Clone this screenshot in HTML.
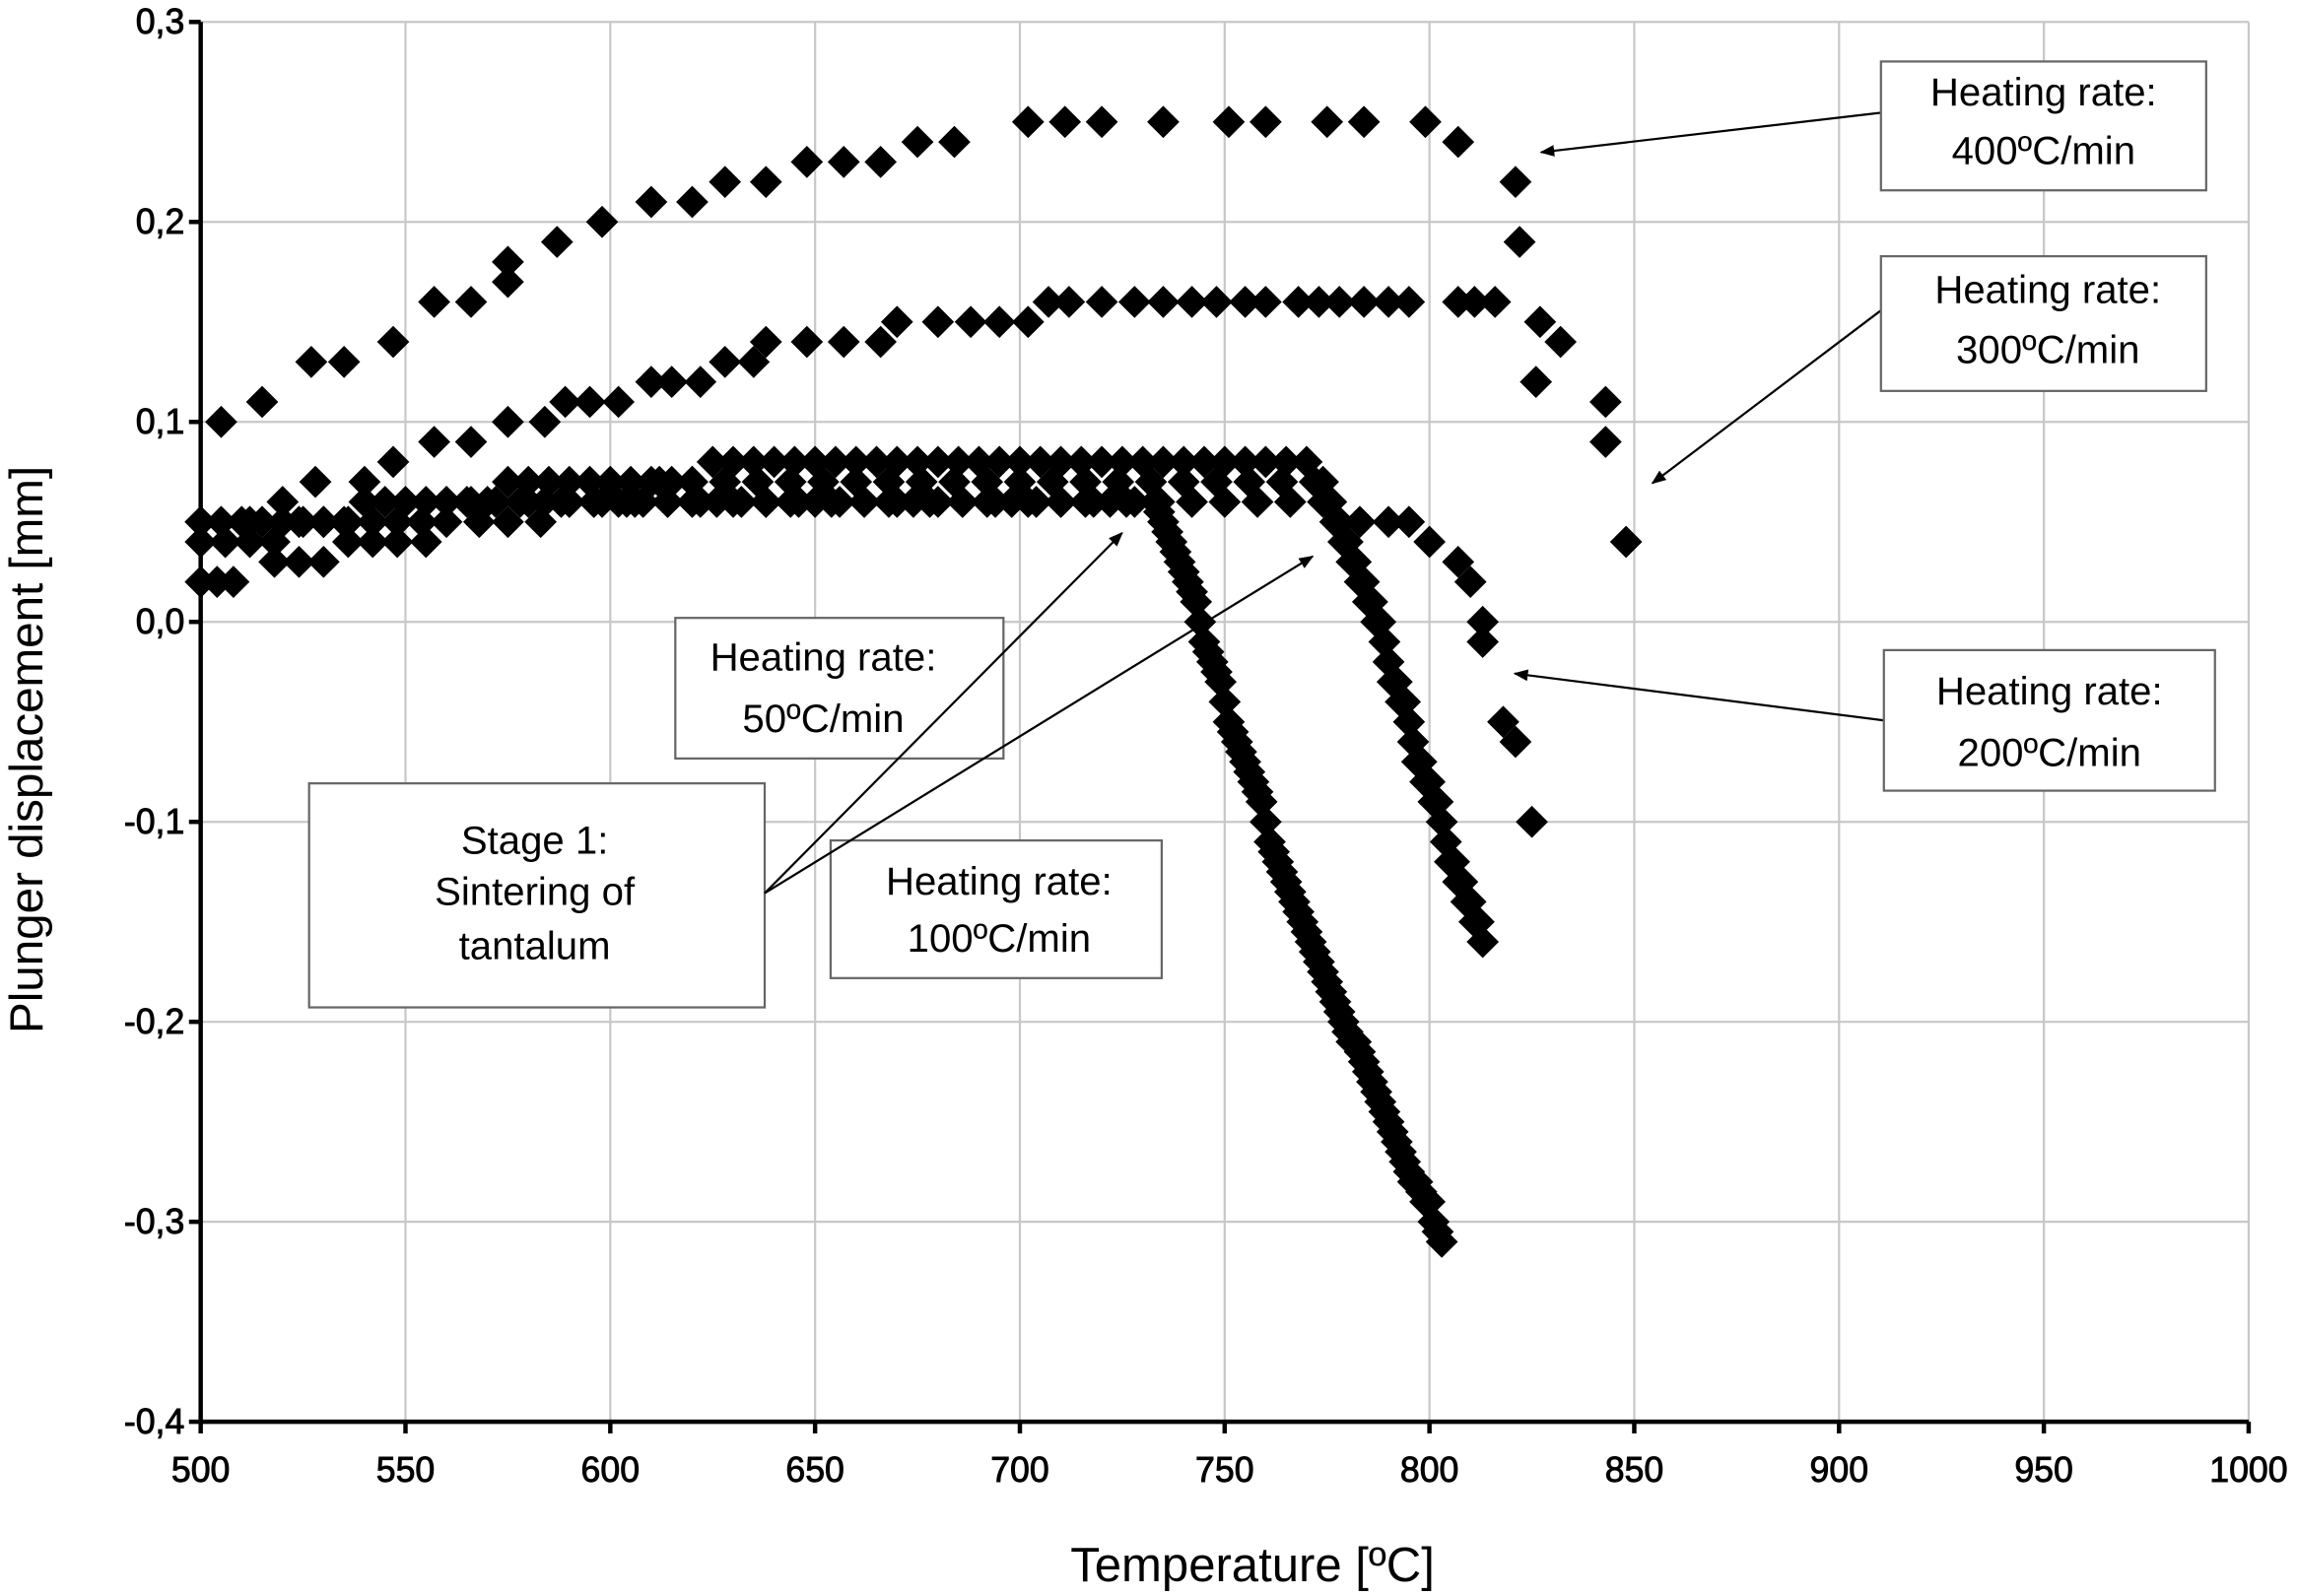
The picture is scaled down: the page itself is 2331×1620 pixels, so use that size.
<!DOCTYPE html>
<html><head><meta charset="utf-8"><style>
html,body{margin:0;padding:0;background:#fff;}
svg{display:block;font-family:"Liberation Sans",Arial,sans-serif;}
</style></head><body>
<svg id="chart" width="2331" height="1620" viewBox="0 0 1568 1090" preserveAspectRatio="none">
<defs><marker id="ah" markerWidth="10" markerHeight="8" refX="9" refY="4" orient="auto" markerUnits="userSpaceOnUse"><path d="M0,0 L10,4 L0,8 Z" fill="#000"/></marker></defs>
<g id="grid"></g>
<g id="marks"></g>
<g id="axes"></g>
<text transform="translate(29,512) rotate(-90)" text-anchor="middle" font-size="32">Plunger displacement [mm]</text>
<text x="855" y="1080" text-anchor="middle" font-size="33">Temperature [ºC]</text>
<g font-size="27" text-anchor="middle" stroke-width="1.5">
<g>
<line x1="1284" y1="77" x2="1052" y2="104" stroke="#000" marker-end="url(#ah)"/>
<rect x="1284" y="42" width="222" height="88" fill="#fff" stroke="#666"/>
<text x="1395" y="72">Heating rate:</text><text x="1395" y="112">400ºC/min</text></g>
<g>
<line x1="1284" y1="212" x2="1128" y2="330" stroke="#000" marker-end="url(#ah)"/>
<rect x="1284" y="175" width="222" height="92" fill="#fff" stroke="#666"/>
<text x="1398" y="207">Heating rate:</text><text x="1398" y="248">300ºC/min</text></g>
<g>
<line x1="1286" y1="492" x2="1034" y2="460" stroke="#000" marker-end="url(#ah)"/>
<rect x="1286" y="444" width="226" height="96" fill="#fff" stroke="#666"/>
<text x="1399" y="481">Heating rate:</text><text x="1399" y="523">200ºC/min</text></g>
<g>
<rect x="461" y="422" width="224" height="96" fill="#fff" stroke="#666"/>
<text x="562" y="458">Heating rate:</text><text x="562" y="500">50ºC/min</text></g>
<g>
<rect x="211" y="535" width="311" height="153" fill="#fff" stroke="#666"/>
<text x="365" y="583">Stage 1:</text><text x="365" y="618">Sintering of</text><text x="365" y="655">tantalum</text></g>
<g>
<rect x="567" y="574" width="226" height="94" fill="#fff" stroke="#666"/>
<text x="682" y="611">Heating rate:</text><text x="682" y="650">100ºC/min</text></g>
<line x1="522" y1="610" x2="766" y2="364" stroke="#000" marker-end="url(#ah)"/>
<line x1="522" y1="610" x2="896" y2="380" stroke="#000" marker-end="url(#ah)"/>
</g>
</svg>
<script>
const xTicks=[500,550,600,650,700,750,800,850,900,950,1000];
const yTicks=[0.3,0.2,0.1,0.0,-0.1,-0.2,-0.3,-0.4];
const yLabels=["0,3","0,2","0,1","0,0","-0,1","-0,2","-0,3","-0,4"];
const t400=[505,515,527,535,547,557,566,575,575,587,598,610,620,628,638,648,657,666,675,684,702,711,720,735,751,760,775,784,799,807,821,822,827,832,843];
const v400=[0.10,0.11,0.13,0.13,0.14,0.16,0.16,0.17,0.18,0.19,0.20,0.21,0.21,0.22,0.22,0.23,0.23,0.23,0.24,0.24,0.25,0.25,0.25,0.25,0.25,0.25,0.25,0.25,0.25,0.24,0.22,0.19,0.15,0.14,0.11];
const t300=[500,506,512,520,528,540,547,557,566,575,584,589,595,602,610,615,622,628,635,638,648,657,666,670,680,688,695,702,707,712,720,728,735,742,748,755,760,768,773,778,784,790,795,807,811,816,826,843,848];
const v300=[0.04,0.04,0.05,0.06,0.07,0.07,0.08,0.09,0.09,0.10,0.10,0.11,0.11,0.11,0.12,0.12,0.12,0.13,0.13,0.14,0.14,0.14,0.14,0.15,0.15,0.15,0.15,0.15,0.16,0.16,0.16,0.16,0.16,0.16,0.16,0.16,0.16,0.16,0.16,0.16,0.16,0.16,0.16,0.16,0.16,0.16,0.12,0.09,0.04];
const t200=[500,504,508,512,518,524,530,536,542,548,555,560,568,575,583,590,598,606,614,622,630,638,646,654,662,670,678,686,694,702,710,718,726,734,742,750,758,766,774,783,790,795,800,807,810,813,813,818,821,825];
const v200=[0.02,0.02,0.02,0.04,0.03,0.03,0.03,0.04,0.04,0.04,0.04,0.05,0.05,0.05,0.05,0.06,0.06,0.06,0.06,0.06,0.06,0.06,0.06,0.06,0.06,0.06,0.06,0.06,0.06,0.06,0.06,0.06,0.06,0.06,0.06,0.06,0.06,0.06,0.06,0.05,0.05,0.05,0.04,0.03,0.02,0.0,-0.01,-0.05,-0.06,-0.10];
const t100=[500,505,510,515,520,525,530,535,540,545,550,555,560,565,570,575,580,585,590,595,600,605,610,615,620,625,630,635,640,645,650,655,660,665,670,675,680,685,690,695,700,705,710,715,720,725,730,735,740,745,750,755,760,765,770,580,588,596,604,612,620,628,636,644,652,660,668,676,684,692,700,708,716,724,732,740,748,756,764,772,774,775,776,777,778,779,780,781,782,783,784,785,786,787,788,789,790,791,792,793,794,795,796,797,798,799,800,801,802,803,804,805,806,807,808,809,810,811,812,813];
const v100=[0.05,0.05,0.05,0.05,0.05,0.05,0.05,0.05,0.06,0.06,0.06,0.06,0.06,0.06,0.06,0.07,0.07,0.07,0.07,0.07,0.07,0.07,0.07,0.07,0.07,0.08,0.08,0.08,0.08,0.08,0.08,0.08,0.08,0.08,0.08,0.08,0.08,0.08,0.08,0.08,0.08,0.08,0.08,0.08,0.08,0.08,0.08,0.08,0.08,0.08,0.08,0.08,0.08,0.08,0.08,0.06,0.06,0.06,0.06,0.07,0.07,0.07,0.07,0.07,0.07,0.07,0.07,0.07,0.07,0.07,0.07,0.07,0.07,0.07,0.07,0.07,0.07,0.07,0.07,0.07,0.07,0.06,0.06,0.05,0.05,0.04,0.04,0.03,0.03,0.02,0.02,0.01,0.01,0.0,0.0,-0.01,-0.02,-0.03,-0.03,-0.04,-0.04,-0.05,-0.06,-0.07,-0.07,-0.08,-0.08,-0.09,-0.09,-0.10,-0.11,-0.12,-0.12,-0.13,-0.13,-0.14,-0.14,-0.15,-0.15,-0.16,-0.16,-0.27];
const t50=[500,506,512,518,524,530,536,542,548,554,560,566,572,578,584,590,596,602,608,614,620,626,632,638,644,650,656,662,668,674,680,686,692,698,704,710,716,722,728,733,734,735,736,737,738,739,740,741,742,743,744,745,746,747,748,749,750,751,752,753,754,755,756,757,758,759,760,761,762,763,764,765,766,767,768,769,770,771,772,773,774,775,776,777,778,779,780,781,782,783,784,785,786,787,788,789,790,791,792,793,794,795,796,797,798,799,800,801,802,803];
const v50=[0.05,0.04,0.04,0.04,0.05,0.05,0.05,0.05,0.05,0.05,0.06,0.06,0.06,0.06,0.06,0.06,0.06,0.06,0.06,0.06,0.06,0.06,0.06,0.06,0.06,0.06,0.06,0.06,0.06,0.06,0.06,0.06,0.06,0.06,0.06,0.06,0.06,0.06,0.06,0.06,0.055,0.05,0.045,0.04,0.035,0.03,0.025,0.02,0.015,0.01,0.0,-0.01,-0.015,-0.02,-0.025,-0.03,-0.04,-0.05,-0.055,-0.06,-0.065,-0.07,-0.075,-0.08,-0.085,-0.09,-0.10,-0.11,-0.115,-0.12,-0.125,-0.13,-0.135,-0.14,-0.145,-0.15,-0.155,-0.16,-0.165,-0.17,-0.175,-0.18,-0.185,-0.19,-0.195,-0.20,-0.205,-0.21,-0.21,-0.215,-0.22,-0.225,-0.23,-0.235,-0.24,-0.245,-0.25,-0.255,-0.26,-0.265,-0.27,-0.275,-0.28,-0.28,-0.285,-0.29,-0.29,-0.30,-0.305,-0.31];
const L=137,R=1535,T=15,B=971;
function sx(t){return L+(t-500)/500*(R-L);}
function sy(v){return T+(0.3-v)/0.7*(B-T);}
const NS="http://www.w3.org/2000/svg";
function mk(tag,attrs,parent){const e=document.createElementNS(NS,tag);for(const k in attrs)e.setAttribute(k,attrs[k]);parent.appendChild(e);return e;}
const grid=document.getElementById('grid'),axes=document.getElementById('axes'),marks=document.getElementById('marks');
xTicks.forEach(t=>{
 const g=mk('line',{x1:sx(t),x2:sx(t),y1:T,y2:B,stroke:'#c8c8c8','stroke-width':1.5},grid);
 
 
 const tk=mk('line',{x1:sx(t),x2:sx(t),y1:B,y2:B+8,stroke:'#000','stroke-width':3},axes);
 
 
 const tx=mk('text',{x:sx(t),y:B+41,'text-anchor':'middle','font-size':24,stroke:'#000','stroke-width':0.6},axes);
 tx.textContent=t;
 
 
});
yTicks.forEach((v,i)=>{
 const g=mk('line',{x1:L,x2:R,y1:sy(v),y2:sy(v),stroke:'#c8c8c8','stroke-width':1.5},grid);
 
 
 const tk=mk('line',{x1:L-8,x2:L,y1:sy(v),y2:sy(v),stroke:'#000','stroke-width':3},axes);
 
 
 const tx=mk('text',{x:L-11,y:sy(v)+8,'text-anchor':'end','font-size':24,stroke:'#000','stroke-width':0.6},axes);
 tx.textContent=yLabels[i];
 
 
});
const ax=mk('path',{d:`M${L},${T} V${B} H${R}`,fill:'none',stroke:'#000','stroke-width':3},axes);


const series=[[t400,v400,'series-400'],[t300,v300,'series-300'],[t200,v200,'series-200'],[t100,v100,'series-100'],[t50,v50,'series-50']];
series.forEach(([ts,vs,name])=>{
 ts.forEach((t,i)=>{
  const x=sx(t),y=sy(vs[i]),h=11;
  const p=mk('path',{d:`M${x},${y-h} L${x+h},${y} L${x},${y+h} L${x-h},${y} Z`,fill:'#000'},marks);
  
  
 });
});
</script>
</body></html>
